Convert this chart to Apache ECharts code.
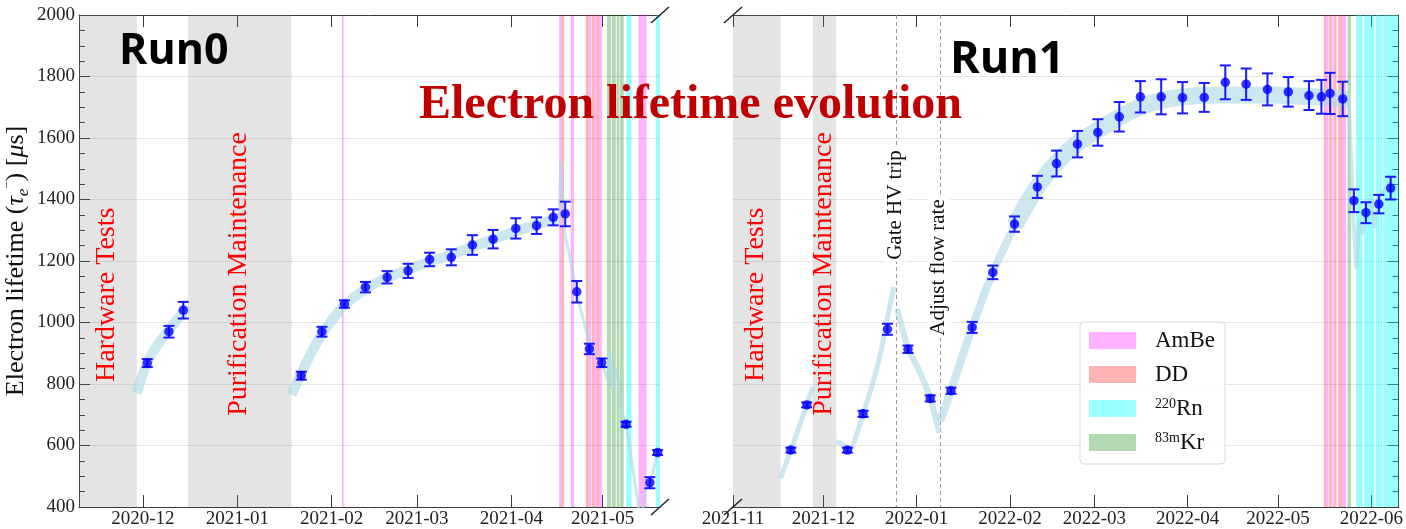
<!DOCTYPE html>
<html>
<head>
<meta charset="utf-8">
<script src="https://cdn.jsdelivr.net/npm/echarts@6/dist/echarts.min.js"></script>
<style>
  html, body { margin: 0; padding: 0; background: #fff; }
  #chart { width: 1406px; height: 529px; }
</style>
</head>
<body>
<div id="chart"></div>
<script>
// ---------------- Run0 measurements ----------------
const run0Dates = [
  '2020-12-02 10:00', '2020-12-09 13:00', '2020-12-14 06:00',
  '2021-01-22 00:00', '2021-01-28 19:00', '2021-02-05 04:00', '2021-02-12 02:00',
  '2021-02-19 05:00', '2021-02-26 02:00', '2021-03-05 04:00', '2021-03-12 07:00',
  '2021-03-19 05:00', '2021-03-26 00:00', '2021-04-02 11:00', '2021-04-09 07:00',
  '2021-04-14 18:00', '2021-04-18 17:00', '2021-04-22 12:00', '2021-04-26 15:00',
  '2021-04-30 17:00', '2021-05-08 16:00', '2021-05-16 12:00', '2021-05-19 01:00'
];
const run0Lifetime = [
  868, 970, 1040,
  827, 970, 1060, 1115,
  1147, 1168, 1205, 1212,
  1252, 1271, 1306, 1315,
  1342, 1353, 1100, 914,
  869, 669, 479, 577
];
const run0Error = [
  13, 19, 27,
  13, 16, 12, 17,
  20, 23, 22, 26,
  32, 30, 33, 27,
  26, 40, 35, 17,
  14, 8, 18, 8
];

// ---------------- Run1 measurements ----------------
const run1Dates = [
  '2021-11-20 05:00', '2021-11-25 12:00', '2021-12-09 00:00', '2021-12-14 05:00',
  '2021-12-22 07:00', '2021-12-29 03:00', '2022-01-05 12:00', '2022-01-12 10:00',
  '2022-01-19 10:00', '2022-01-26 07:00', '2022-02-02 12:00', '2022-02-10 02:00',
  '2022-02-16 11:00', '2022-02-23 10:00', '2022-03-02 04:00', '2022-03-09 07:00',
  '2022-03-16 07:00', '2022-03-23 05:00', '2022-03-30 07:00', '2022-04-06 12:00',
  '2022-04-13 12:00', '2022-04-20 10:00', '2022-04-27 12:00', '2022-05-04 10:00',
  '2022-05-11 07:00', '2022-05-15 10:00', '2022-05-18 07:00', '2022-05-22 12:00',
  '2022-05-26 05:00', '2022-05-30 05:00', '2022-06-03 12:00', '2022-06-07 10:00'
];
const run1Lifetime = [
  585, 732, 585, 703,
  978, 913, 753, 778,
  984, 1163, 1320, 1441,
  1517, 1580, 1618, 1669,
  1734, 1734, 1731, 1732,
  1781, 1775, 1758, 1750,
  1738, 1734, 1745, 1727,
  1396, 1357, 1385, 1437
];
const run1Error = [
  8, 8, 8, 10,
  18, 12, 10, 10,
  18, 22, 25, 36,
  42, 43, 43, 48,
  51, 57, 51, 47,
  55, 51, 52, 48,
  47, 55, 67, 56,
  37, 34, 30, 37
];

// ---------------- Lifetime model (centre of the shaded band) ----------------
const run0ModelA = [
  ['2020-11-29 00:00', 770], ['2020-12-02 10:00', 870], ['2020-12-06 00:00', 930],
  ['2020-12-10 00:00', 982], ['2020-12-14 00:00', 1030], ['2020-12-15 19:00', 1052]
];
const run0ModelB = [
  ['2021-01-18 19:00', 765], ['2021-01-22 00:00', 835], ['2021-01-25 12:00', 905],
  ['2021-01-29 00:00', 965], ['2021-02-02 00:00', 1020], ['2021-02-05 00:00', 1055],
  ['2021-02-12 00:00', 1108], ['2021-02-19 00:00', 1145], ['2021-02-26 00:00', 1172],
  ['2021-03-05 00:00', 1197], ['2021-03-12 00:00', 1220], ['2021-03-19 00:00', 1245],
  ['2021-03-26 00:00', 1270], ['2021-04-02 00:00', 1295], ['2021-04-09 00:00', 1318],
  ['2021-04-16 17:00', 1340]
];
const run0ModelTail = [
  ['2021-04-16 17:00', 1340], ['2021-04-17 06:00', 1520], ['2021-04-18 12:00', 1290],
  ['2021-04-20 12:00', 1200], ['2021-04-23 00:00', 1075], ['2021-04-25 12:00', 975],
  ['2021-04-27 00:00', 930], ['2021-04-29 00:00', 890], ['2021-05-01 00:00', 860],
  ['2021-05-02 12:00', 815], ['2021-05-03 06:00', 900], ['2021-05-04 06:00', 790],
  ['2021-05-05 18:00', 850], ['2021-05-07 00:00', 720], ['2021-05-08 16:00', 670],
  ['2021-05-12 12:00', 420], ['2021-05-13 12:00', 340], ['2021-05-15 00:00', 455],
  ['2021-05-16 12:00', 478], ['2021-05-19 01:00', 577]
];
const run1ModelC = [
  ['2021-11-16 19:00', 493], ['2021-11-20 05:00', 585], ['2021-11-25 12:00', 732],
  ['2021-11-27 12:00', 791]
];
const run1ModelD = [
  ['2021-12-05 07:00', 612], ['2021-12-07 00:00', 606], ['2021-12-09 12:00', 582],
  ['2021-12-14 05:00', 702], ['2021-12-19 12:00', 878], ['2021-12-23 06:00', 1062],
  ['2021-12-24 12:00', 1116]
];
const run1ModelE = [
  ['2021-12-25 12:00', 1045], ['2021-12-29 03:00', 917], ['2022-01-02 00:00', 840],
  ['2022-01-05 12:00', 754], ['2022-01-08 12:00', 641]
];
const run1ModelF = [
  ['2022-01-08 20:00', 680], ['2022-01-12 10:00', 780], ['2022-01-19 10:00', 984],
  ['2022-01-26 07:00', 1163], ['2022-02-02 12:00', 1315]
];
const run1ModelG = [
  ['2022-02-02 12:00', 1315], ['2022-02-10 00:00', 1440], ['2022-02-16 12:00', 1520],
  ['2022-02-23 00:00', 1580], ['2022-03-02 00:00', 1625], ['2022-03-09 00:00', 1665],
  ['2022-03-16 00:00', 1700], ['2022-03-23 00:00', 1722], ['2022-03-30 00:00', 1733],
  ['2022-04-06 00:00', 1738], ['2022-04-13 00:00', 1740], ['2022-04-20 00:00', 1740],
  ['2022-04-27 00:00', 1740], ['2022-05-04 00:00', 1738], ['2022-05-11 00:00', 1735],
  ['2022-05-18 00:00', 1732], ['2022-05-24 12:00', 1725]
];
const run1ModelTail = [
  ['2022-05-24 12:00', 1725], ['2022-05-26 00:00', 1340], ['2022-05-27 00:00', 1180],
  ['2022-05-28 00:00', 1330], ['2022-05-29 00:00', 1290], ['2022-05-30 12:00', 1377],
  ['2022-06-01 00:00', 1398], ['2022-06-02 00:00', 1312], ['2022-06-03 12:00', 1409],
  ['2022-06-08 00:00', 1463]
];

// ---------------- Detector downtime periods ----------------
const downtimeLabels = ['Hardware Tests', 'Purification Maintenance'];
const run0Downtime = [['2020-11-10 00:00', '2020-11-29 00:00'], ['2020-12-15 19:00', '2021-01-18 19:00']];
const run1Downtime = [['2021-11-01 00:00', '2021-11-16 19:00'], ['2021-11-27 12:00', '2021-12-05 07:00']];

// ---------------- Run1 operational events ----------------
const eventLabels = ['Gate HV trip', 'Adjust flow rate'];
const eventDates = ['2021-12-25 05:00', '2022-01-08 16:00'];

// ---------------- Calibration campaigns ----------------
const calibNames = ['AmBe', 'DD', '220Rn', '83mKr'];
const run0AmBe = [
  ['2021-02-04 08:00', '2021-02-04 22:00'], ['2021-04-16 17:00', '2021-04-17 12:00'],
  ['2021-04-20 12:00', '2021-04-21 14:00'], ['2021-04-26 08:00', '2021-04-27 05:00'],
  ['2021-04-28 06:00', '2021-04-29 02:00'], ['2021-04-29 22:00', '2021-04-30 17:00'],
  ['2021-05-12 19:00', '2021-05-15 10:00']
];
const run0DD = [
  ['2021-04-17 12:00', '2021-04-18 07:00'], ['2021-04-25 12:00', '2021-04-26 08:00'],
  ['2021-04-27 10:00', '2021-04-28 06:00'], ['2021-04-29 02:00', '2021-04-29 22:00']
];
const run0Rn = [['2021-05-08 19:00', '2021-05-10 12:00'], ['2021-05-18 12:00', '2021-05-20 00:00']];
const run0Kr = [
  ['2021-05-02 10:00', '2021-05-03 17:00'], ['2021-05-03 23:00', '2021-05-05 07:00'],
  ['2021-05-05 14:00', '2021-05-06 10:00'], ['2021-05-06 14:00', '2021-05-07 22:00']
];
const run1AmBe = [
  ['2022-05-16 22:00', '2022-05-17 18:00'], ['2022-05-19 02:00', '2022-05-19 18:00'],
  ['2022-05-22 06:00', '2022-05-23 14:00']
];
const run1DD = [
  ['2022-05-16 05:00', '2022-05-16 22:00'], ['2022-05-18 00:00', '2022-05-18 22:00'],
  ['2022-05-19 18:00', '2022-05-20 10:00'], ['2022-05-21 00:00', '2022-05-22 06:00']
];
const run1Rn = [
  ['2022-05-26 22:00', '2022-05-29 02:00'], ['2022-05-29 14:00', '2022-06-01 22:00'],
  ['2022-06-02 10:00', '2022-06-04 14:00'], ['2022-06-04 22:00', '2022-06-11 00:00']
];
const run1Kr = [['2022-05-24 02:00', '2022-05-25 05:00']];

// ---------------- Axis ticks ----------------
const run0MonthTicks = ['2020-12', '2021-01', '2021-02', '2021-03', '2021-04', '2021-05'];
const run1MonthTicks = ['2021-11', '2021-12', '2022-01', '2022-02', '2022-03', '2022-04', '2022-05', '2022-06'];
const run0Range = ['2020-11-10 00:00', '2021-05-19 20:00'];
const run1Range = ['2021-11-01 00:00', '2022-06-10 00:00'];
const lifetimeRange = [400, 2000];
const lifetimeStep = 200;

// ---------------- Helpers ----------------
function ts(s) {
  const [d, t = '00:00'] = s.split(' ');
  const [Y, M, D = 1] = d.split('-').map(Number);
  const [h, m] = t.split(':').map(Number);
  return new Date(Y, M - 1, D, h, m).getTime();
}
const SERIF = "'Liberation Serif', 'DejaVu Serif', serif";
const AXIS_COLOR = '#3a3a3a';
const CALIB_COLORS = {
  'AmBe': 'rgba(255,0,255,0.3)',
  'DD': 'rgba(255,0,0,0.3)',
  '220Rn': 'rgba(0,255,255,0.4)',
  '83mKr': 'rgba(0,128,0,0.3)'
};
const BAND_COLOR = 'rgba(173,216,230,0.62)';

const GRID0 = { left: 79, top: 15, width: 581, height: 492 };
const GRID1 = { left: 733, top: 15, width: 672, height: 492 };

function tickLabelMap(list) {
  const m = {};
  list.forEach(t => { m[ts(t)] = t; });
  return m;
}
const run0LabelMap = tickLabelMap(run0MonthTicks);
const run1LabelMap = tickLabelMap(run1MonthTicks);

// Date axes are plain value axes over epoch milliseconds with month ticks
function bottomAxis(gridIndex, range, ticks, labelMap) {
  const vals = ticks.map(ts);
  return {
    type: 'value', gridIndex, position: 'bottom',
    min: ts(range[0]), max: ts(range[1]), scale: true,
    axisLine: { show: true, onZero: false, lineStyle: { color: AXIS_COLOR, width: 1 } },
    axisTick: { show: true, inside: true, length: 12, customValues: vals, lineStyle: { color: AXIS_COLOR } },
    axisLabel: {
      show: true, customValues: vals, margin: 3,
      fontFamily: SERIF, fontSize: 19, color: '#222',
      formatter: v => labelMap[v] || '',
      showMinLabel: true, showMaxLabel: true, hideOverlap: false
    },
    splitLine: { show: false }
  };
}
function topAxis(gridIndex, range, ticks) {
  const vals = ticks.map(ts);
  return {
    type: 'value', gridIndex, position: 'top',
    min: ts(range[0]), max: ts(range[1]), scale: true,
    axisLine: { show: true, onZero: false, lineStyle: { color: AXIS_COLOR, width: 1 } },
    axisTick: { show: true, inside: true, length: 12, customValues: vals, lineStyle: { color: AXIS_COLOR } },
    axisLabel: { show: false },
    splitLine: { show: false }
  };
}
function lifetimeAxis(gridIndex, position, withLabels) {
  const ax = {
    type: 'value', gridIndex, position,
    min: lifetimeRange[0], max: lifetimeRange[1], interval: lifetimeStep,
    axisLine: { show: true, onZero: false, lineStyle: { color: AXIS_COLOR, width: 1 } },
    axisTick: { show: true, inside: true, length: 11, lineStyle: { color: AXIS_COLOR } },
    minorTick: { show: true, splitNumber: 4, length: 6, lineStyle: { color: AXIS_COLOR } },
    splitLine: { show: true, lineStyle: { color: '#e6e6e6', width: 1 } },
    axisLabel: { show: withLabels, margin: 4, fontFamily: SERIF, fontSize: 19, color: '#222', formatter: v => String(v) }
  };
  if (withLabels) {
    ax.name = 'Electron lifetime ({i|τ}{sub|e}{sup|−}) [{i|μ}s]';
    ax.nameLocation = 'middle';
    ax.nameRotate = 90;
    ax.nameGap = 47;
    ax.nameTextStyle = {
      fontFamily: SERIF, fontSize: 26, color: '#111',
      rich: {
        i: { fontFamily: SERIF, fontSize: 26, fontStyle: 'italic', color: '#111' },
        sub: { fontFamily: SERIF, fontSize: 17, fontStyle: 'italic', color: '#111', verticalAlign: 'bottom', lineHeight: 31 },
        sup: { fontFamily: SERIF, fontSize: 13, color: '#111', verticalAlign: 'top', lineHeight: 31 }
      }
    };
  }
  return ax;
}

function spanSeries(name, ranges, color, xAxisIndex, yAxisIndex, z) {
  return {
    type: 'custom', name, xAxisIndex, yAxisIndex, z, silent: true,
    itemStyle: { color },
    encode: { x: [0, 1], y: 2 },
    data: ranges.map(r => [ts(r[0]), ts(r[1]), lifetimeRange[1]]),
    renderItem: (params, api) => {
      const cs = params.coordSys;
      let x0 = api.coord([api.value(0), lifetimeRange[1]])[0];
      let x1 = api.coord([api.value(1), lifetimeRange[1]])[0];
      x0 = Math.max(x0, cs.x);
      x1 = Math.min(x1, cs.x + cs.width);
      if (x1 <= x0) return null;
      return { type: 'rect', shape: { x: x0, y: cs.y, width: x1 - x0, height: cs.height }, style: { fill: color } };
    }
  };
}
function eventSeries(dates, xAxisIndex, yAxisIndex) {
  return {
    type: 'custom', name: 'events', xAxisIndex, yAxisIndex, z: 2, silent: true,
    data: dates.map(d => [ts(d), lifetimeRange[0]]),
    renderItem: (params, api) => {
      const cs = params.coordSys;
      const x = Math.round(api.coord([api.value(0), lifetimeRange[0]])[0]) + 0.5;
      return { type: 'line', shape: { x1: x, y1: cs.y, x2: x, y2: cs.y + cs.height },
        style: { stroke: '#9a9a9a', lineWidth: 1, lineDash: [4, 3] } };
    }
  };
}
function modelSeries(points, xAxisIndex, yAxisIndex, width, smooth) {
  return {
    type: 'line', name: 'model', xAxisIndex, yAxisIndex, z: 3, silent: true,
    data: points.map(p => [ts(p[0]), p[1]]),
    symbol: 'none', smooth: smooth, clip: true,
    lineStyle: { color: BAND_COLOR, width, cap: 'butt', join: 'round' }
  };
}
function errorSeries(dates, vals, errs, xAxisIndex, yAxisIndex) {
  return {
    type: 'custom', name: 'err', xAxisIndex, yAxisIndex, z: 4, silent: true,
    data: dates.map((d, i) => [ts(d), vals[i], errs[i]]),
    renderItem: (params, api) => {
      const x = api.value(0), y = api.value(1), e = api.value(2);
      const top = api.coord([x, y + e]);
      const bot = api.coord([x, y - e]);
      const hw = 5.5;
      const st = { stroke: '#1a1aff', lineWidth: 2 };
      return {
        type: 'group', children: [
          { type: 'line', shape: { x1: top[0], y1: top[1], x2: bot[0], y2: bot[1] }, style: st },
          { type: 'line', shape: { x1: top[0] - hw, y1: top[1], x2: top[0] + hw, y2: top[1] }, style: st },
          { type: 'line', shape: { x1: bot[0] - hw, y1: bot[1], x2: bot[0] + hw, y2: bot[1] }, style: st }
        ]
      };
    }
  };
}
function pointSeries(dates, vals, xAxisIndex, yAxisIndex) {
  return {
    type: 'scatter', name: 'data', xAxisIndex, yAxisIndex, z: 5, silent: true, clip: false,
    data: dates.map((d, i) => [ts(d), vals[i]]),
    symbol: 'circle', symbolSize: 9.5,
    itemStyle: { color: '#0000ff' }
  };
}

const run0Calib = { 'AmBe': run0AmBe, 'DD': run0DD, '220Rn': run0Rn, '83mKr': run0Kr };
const run1Calib = { 'AmBe': run1AmBe, 'DD': run1DD, '220Rn': run1Rn, '83mKr': run1Kr };

const series = [];
// downtime shading
series.push(spanSeries('downtime', run0Downtime, 'rgba(128,128,128,0.21)', 0, 0, 1));
series.push(spanSeries('downtime', run1Downtime, 'rgba(128,128,128,0.21)', 2, 1, 1));
// calibration shading
calibNames.forEach(n => {
  series.push(spanSeries(n, run0Calib[n], CALIB_COLORS[n], 0, 0, 1));
  series.push(spanSeries(n, run1Calib[n], CALIB_COLORS[n], 2, 1, 1));
});
// events
series.push(eventSeries(eventDates, 2, 1));
// lifetime model band
series.push(modelSeries(run0ModelA, 0, 0, 10, 0.3));
series.push(modelSeries(run0ModelB, 0, 0, 10, 0.3));
series.push(modelSeries(run0ModelTail, 0, 0, 3, false));
series.push(modelSeries(run1ModelC, 2, 1, 5, 0.2));
series.push(modelSeries(run1ModelD, 2, 1, 5, 0.2));
series.push(modelSeries(run1ModelE, 2, 1, 6, 0.2));
series.push(modelSeries(run1ModelF, 2, 1, 8, 0.2));
series.push(modelSeries(run1ModelG, 2, 1, 17, 0.3));
series.push(modelSeries(run1ModelTail, 2, 1, 4, false));
// measurements
series.push(errorSeries(run0Dates, run0Lifetime, run0Error, 0, 0));
series.push(errorSeries(run1Dates, run1Lifetime, run1Error, 2, 1));
series.push(pointSeries(run0Dates, run0Lifetime, 0, 0));
series.push(pointSeries(run1Dates, run1Lifetime, 2, 1));

const legendText = {
  'AmBe': '{n|AmBe}', 'DD': '{n|DD}', '220Rn': '{s|220}{n|Rn}', '83mKr': '{s|83m}{n|Kr}'
};

const chart = echarts.init(document.getElementById('chart'), null, { renderer: 'canvas' });
chart.setOption({
  animation: false,
  backgroundColor: '#ffffff',
  grid: [
    Object.assign({ containLabel: false }, GRID0),
    Object.assign({ containLabel: false }, GRID1)
  ],
  xAxis: [
    bottomAxis(0, run0Range, run0MonthTicks, run0LabelMap),
    topAxis(0, run0Range, run0MonthTicks),
    bottomAxis(1, run1Range, run1MonthTicks, run1LabelMap),
    topAxis(1, run1Range, run1MonthTicks)
  ],
  yAxis: [
    lifetimeAxis(0, 'left', true),
    lifetimeAxis(1, 'right', false)
  ],
  legend: {
    orient: 'vertical', left: 1080, top: 322,
    icon: 'rect', itemWidth: 47, itemHeight: 17, itemGap: 11,
    padding: [7, 10, 10, 9],
    backgroundColor: 'rgba(255,255,255,0.85)',
    borderColor: '#d9d9d9', borderWidth: 1, borderRadius: 4,
    selectedMode: false,
    data: calibNames.map(n => ({ name: n, itemStyle: { color: CALIB_COLORS[n] } })),
    formatter: n => legendText[n] || n,
    textStyle: {
      fontFamily: SERIF, fontSize: 23, color: '#111', lineHeight: 22,
      padding: [0, 0, 0, 14],
      rich: {
        n: { fontFamily: SERIF, fontSize: 23, color: '#111', lineHeight: 22 },
        s: { fontFamily: SERIF, fontSize: 14, color: '#111', lineHeight: 22, verticalAlign: 'top' }
      }
    }
  },
  series
});

// Annotations positioned through the axes
const px = (axis, t) => chart.convertToPixel({ xAxisIndex: axis }, t);
const py = (axis, v) => chart.convertToPixel({ yAxisIndex: axis }, v);
const downtimeLabelValue = [1090, 1158];
const eventLabelValue = [1382, 1179];

const graphics = [];
function vText(text, x, y, font, fill, bg) {
  const g = {
    type: 'text', x, y, rotation: Math.PI / 2, z: 50, silent: true,
    style: { text, font, fill, textAlign: 'center', align: 'center', textVerticalAlign: 'middle', verticalAlign: 'middle' }
  };
  if (bg) { g.style.backgroundColor = bg; g.style.padding = [1, 2]; }
  return g;
}
[[run0Downtime, 0, 0], [run1Downtime, 2, 1]].forEach(([spans, xa, ya]) => {
  spans.forEach((s, i) => {
    const x = px(xa, (ts(s[0]) + ts(s[1])) / 2) - 1;
    const y = py(ya, downtimeLabelValue[i]);
    graphics.push(vText(downtimeLabels[i], x, y, '28px ' + SERIF, '#ff0000'));
  });
});
eventDates.forEach((d, i) => {
  graphics.push(vText(eventLabels[i], px(2, ts(d)) - 1, py(1, eventLabelValue[i]), '21px ' + SERIF, '#111', '#ffffff'));
});

// Axis-break marks at the inner corners of the two panels
[[GRID0.left + GRID0.width, GRID0.top], [GRID0.left + GRID0.width, GRID0.top + GRID0.height],
 [GRID1.left, GRID1.top], [GRID1.left, GRID1.top + GRID1.height]].forEach(([cx, cy]) => {
  graphics.push({ type: 'line', z: 60, silent: true,
    shape: { x1: cx - 9, y1: cy + 8, x2: cx + 9, y2: cy - 8 },
    style: { stroke: '#222', lineWidth: 1.5 } });
});

// Panel titles and the headline
graphics.push({ type: 'text', x: 119, y: 52, z: 60, silent: true,
  style: { text: 'Run0', font: 'bold 43px "Open Sans"', fill: '#000', textAlign: 'left', align: 'left', textVerticalAlign: 'middle', verticalAlign: 'middle' } });
graphics.push({ type: 'text', x: 950, y: 60, z: 60, silent: true,
  style: { text: 'Run1', font: 'bold 45px "Open Sans"', fill: '#000', textAlign: 'left', align: 'left', textVerticalAlign: 'middle', verticalAlign: 'middle' } });
graphics.push({ type: 'text', x: 419, y: 106, z: 60, silent: true,
  style: { text: 'Electron lifetime evolution', font: 'bold 48px ' + SERIF, fill: '#c00000', textAlign: 'left', align: 'left', textVerticalAlign: 'middle', verticalAlign: 'middle' } });

chart.setOption({ graphic: graphics });
</script>
</body>
</html>
